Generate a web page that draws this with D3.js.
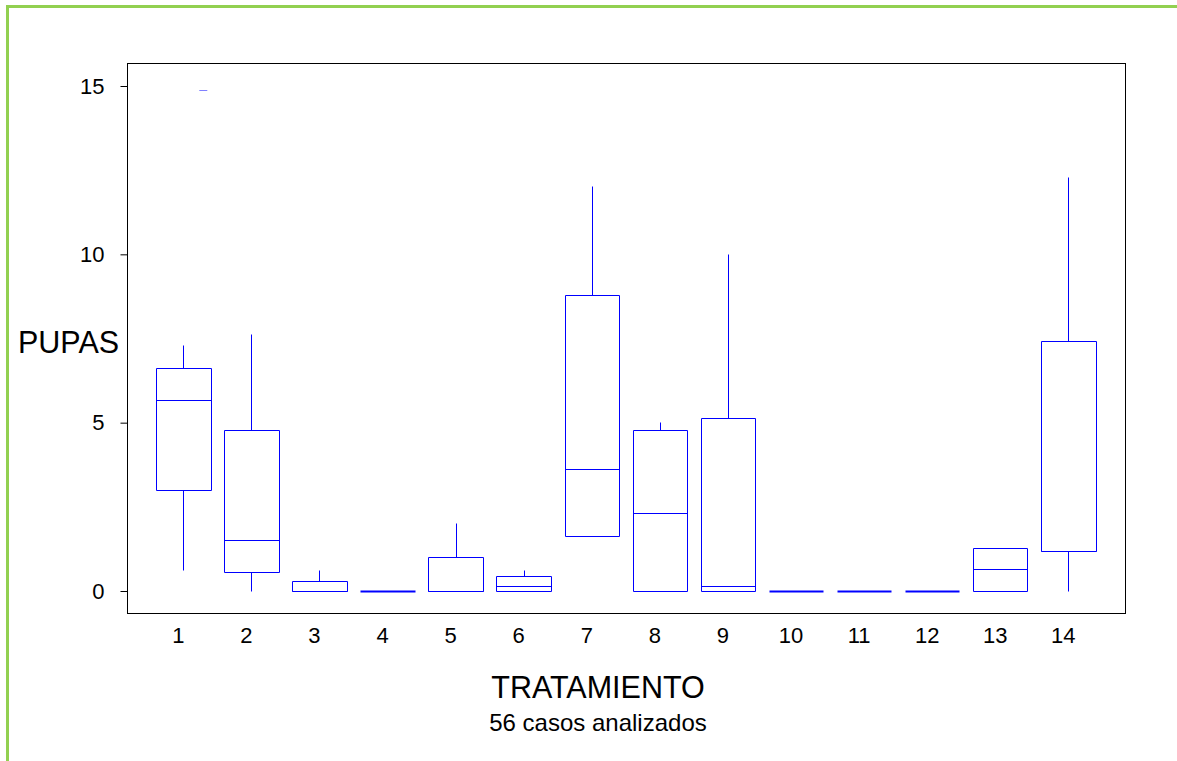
<!DOCTYPE html>
<html>
<head>
<meta charset="utf-8">
<script src="https://cdn.jsdelivr.net/npm/d3@7"></script>
<style>
  body { margin: 0; background: #fff; }
  svg { display: block; font-family: "Liberation Sans", Arial, sans-serif; }
</style>
</head>
<body>
<svg id="chart" width="1177" height="761"></svg>
<script>
// treatment categories
const treatments = [1, 2, 3, 4, 5, 6, 7, 8, 9, 10, 11, 12, 13, 14];

// box plot stats per treatment
const whiskerLow  = [0.62, 0.00, 0.00, 0, 0.00, 0.00, 1.63, 0.00, 0.00, 0, 0, 0, 0.00, 0.00];
const q1          = [3.00, 0.55, 0.00, 0, 0.00, 0.00, 1.63, 0.00, 0.00, 0, 0, 0, 0.00, 1.19];
const median      = [5.68, 1.51, 0.00, 0, 0.00, 0.16, 3.62, 2.32, 0.16, 0, 0, 0, 0.65, 1.19];
const q3          = [6.63, 4.79, 0.29, 0, 1.00, 0.44, 8.79, 4.78, 5.14, 0, 0, 0, 1.29, 7.43];
const whiskerHigh = [7.31, 7.62, 0.62, 0, 2.01, 0.62, 12.02, 5.02, 10.00, 0, 0, 0, 1.29, 12.31];

// outside values
const outlierTreatment = [1];
const outlierValue = [14.89];

const yTicks = [0, 5, 10, 15];

const svg = d3.select("#chart");
const BLUE = "#0000ff";

// green page border (left and top only, runs off the page)
svg.append("path")
    .attr("d", "M7.5,770 L7.5,6.5 L1190,6.5")
    .attr("fill", "none")
    .attr("stroke", "#92d050")
    .attr("stroke-width", 3);

const plot = { left: 127, top: 63, right: 1125, bottom: 613 };

let x = d3.scaleLinear().domain([0.173, 14.833]).range([plot.left, plot.right]);
let y = d3.scaleLinear().domain([0, 15]).range([591, 86]);

const halfBox = 0.4;
const crisp = v => Math.round(v) + 0.5;

// frame
svg.append("rect")
    .attr("x", plot.left + 0.5).attr("y", plot.top + 0.5)
    .attr("width", plot.right - plot.left).attr("height", plot.bottom - plot.top)
    .attr("fill", "none").attr("stroke", "#000").attr("stroke-width", 1);

// y axis
let yAxis = d3.axisLeft(y).tickValues(yTicks).tickSize(7).tickPadding(16).tickFormat(d3.format("d"));
let yG = svg.append("g").attr("transform", `translate(${plot.left + 0.5},0)`).call(yAxis);
yG.select(".domain").remove();
yG.selectAll("line").attr("stroke", "#000");
yG.selectAll("text").attr("font-size", 22).attr("fill", "#000")
    .attr("font-family", "'Liberation Sans', Arial, sans-serif");

// x labels (no tick marks)
svg.append("g").selectAll("text").data(treatments).enter().append("text")
    .attr("x", d => x(d) - 5)
    .attr("y", 643)
    .attr("text-anchor", "middle")
    .attr("font-size", 22)
    .text(d => d);

// boxes, every edge drawn as its own line
let boxes = svg.append("g");

function seg(x1, y1, x2, y2, w) {
    boxes.append("line")
        .attr("x1", x1).attr("y1", y1).attr("x2", x2).attr("y2", y2)
        .attr("stroke", BLUE).attr("stroke-width", w || 1);
}

treatments.forEach(function (t, i) {
    let cx = crisp(x(t));
    let l = crisp(x(t - halfBox));
    let r = crisp(x(t + halfBox));
    let yq1 = crisp(y(q1[i])), yq3 = crisp(y(q3[i]));
    let ymed = crisp(y(median[i]));
    let ylo = crisp(y(whiskerLow[i])), yhi = crisp(y(whiskerHigh[i]));

    if (yhi < yq3) seg(cx, yhi, cx, yq3);
    if (ylo > yq1) seg(cx, yq1, cx, ylo);

    if (yq1 === yq3) {
        seg(l, yq1, r, yq1, 2);
    } else {
        seg(l, yq3, r, yq3);
        seg(l, yq1, r, yq1);
        seg(l, yq3, l, yq1);
        seg(r, yq3, r, yq1);
        seg(l, ymed, r, ymed);
    }
});

// outlier marks
svg.append("g").selectAll("line").data(outlierValue).enter().append("line")
    .attr("x1", (d, i) => x(outlierTreatment[i]) + 16)
    .attr("x2", (d, i) => x(outlierTreatment[i]) + 24)
    .attr("y1", d => crisp(y(d)))
    .attr("y2", d => crisp(y(d)))
    .attr("stroke", "#8080ff");

// titles
svg.append("text").attr("x", 18).attr("y", 353).attr("font-size", 30.5).text("PUPAS");
svg.append("text").attr("x", 598).attr("y", 698).attr("text-anchor", "middle")
    .attr("font-size", 30.5).text("TRATAMIENTO");
svg.append("text").attr("x", 598).attr("y", 731).attr("text-anchor", "middle")
    .attr("font-size", 24).text("56 casos analizados");
</script>
</body>
</html>
